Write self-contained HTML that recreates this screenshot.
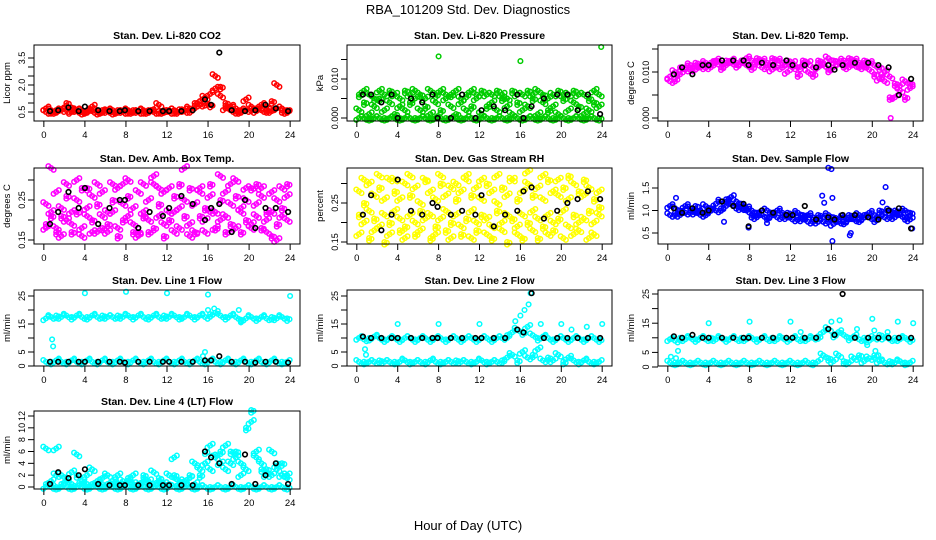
<!DOCTYPE html>
<html><head><meta charset="utf-8"><style>
body{margin:0;background:#fff}
svg{display:block;font-family:"Liberation Sans",Arial,sans-serif}
</style></head><body>
<svg id="chart" width="936" height="540" viewBox="0 0 936 540" xmlns="http://www.w3.org/2000/svg">
<rect width="936" height="540" fill="#fff"/>
<text x="468" y="14" text-anchor="middle" font-size="13">RBA_101209  Std. Dev. Diagnostics</text>
<text x="468" y="530" text-anchor="middle" font-size="13">Hour of Day (UTC)</text>
</svg>
<script>
const halfHours=[0.2,0.7,1.2,1.7,2.2,2.7,3.2,3.7,4.2,4.7,5.2,5.7,6.2,6.7,7.2,7.7,8.2,8.7,9.2,9.7,10.2,10.7,11.2,11.7,12.2,12.7,13.2,13.7,14.2,14.7,15.2,15.7,16.2,16.7,17.2,17.7,18.2,18.7,19.2,19.7,20.2,20.7,21.2,21.7,22.2,22.7,23.2,23.7];
const hours=[0.6,1.4,2.4,3.4,4.0,5.3,6.4,7.4,7.9,9.2,10.3,11.6,12.2,13.4,14.5,15.7,16.3,17.1,18.3,19.6,20.6,21.6,22.6,23.8];
const co2A=[0.7,0.6,0.6,0.65,0.6,0.75,0.6,0.55,0.6,0.8,0.6,0.6,0.55,0.6,0.6,0.55,0.6,0.6,0.55,0.6,0.6,0.65,0.9,0.6,0.6,0.6,0.65,0.6,0.7,1.0,1.1,1.3,0.9,1.8,1.4,1.0,0.8,0.7,0.6,1.2,0.8,0.7,0.9,0.8,1.1,0.7,0.7,0.6];
const co2B=[0.5,0.55,0.5,0.6,1.0,0.5,0.55,0.5,0.5,0.55,0.5,0.5,0.55,0.5,0.5,0.5,0.55,0.5,0.5,0.55,0.5,0.5,0.55,0.5,0.5,0.55,0.5,0.55,0.6,0.7,0.9,1.0,1.5,2.5,1.9,0.7,0.6,0.55,0.5,0.6,0.7,0.55,0.6,0.6,0.55,2.0,0.6,0.5];
const co2K=[0.55,0.6,0.75,0.55,0.8,0.6,0.55,0.55,0.6,0.55,0.55,0.55,0.55,0.55,0.6,1.2,0.9,3.8,0.6,0.55,0.6,0.9,0.7,0.55];
const presA=[0.006,0.007,0.006,0.005,0.007,0.006,0.007,0.006,0.005,0.007,0.006,0.007,0.006,0.005,0.007,0.006,0.007,0.006,0.006,0.007,0.005,0.006,0.007,0.006,0.007,0.006,0.006,0.007,0.006,0.005,0.007,0.006,0.006,0.007,0.006,0.007,0.006,0.005,0.006,0.007,0.006,0.006,0.007,0.006,0.006,0.005,0.007,0.006];
const presB=[0.002,0.004,0.001,0.003,0.005,0.002,0.004,0.001,0.003,0.002,0.004,0.005,0.002,0.003,0.001,0.004,0.002,0.005,0.003,0.001,0.004,0.002,0.003,0.005,0.001,0.003,0.004,0.002,0.005,0.003,0.001,0.004,0.002,0.003,0.005,0.001,0.004,0.002,0.003,0.001,0.005,0.002,0.004,0.003,0.001,0.002,0.004,0.003];
const presC=[0,0,0,0,0,0,0,0,0,0,0,0,0,0,0,0,0,0,0,0,0,0,0,0,0,0,0,0,0,0,0,0,0,0,0,0,0,0,0,0,0,0,0,0,0,0,0,0];
const presK=[0.006,0.006,0.004,0.006,0.0,0.005,0.004,0.006,0.0,0.0,0.006,0.0,0.002,0.003,0.002,0.006,0.0,0.003,0.005,0.006,0.006,0.002,0.006,0.001];
const presOutX=[8,16,23.9];
const presOutY=[0.0158,0.0146,0.0182];
const tempA=[0.009,0.010,0.011,0.011,0.0115,0.012,0.0115,0.012,0.012,0.0125,0.012,0.0125,0.0125,0.012,0.0125,0.013,0.0125,0.013,0.0125,0.012,0.013,0.0125,0.012,0.0125,0.012,0.011,0.0125,0.012,0.011,0.0125,0.012,0.013,0.0125,0.012,0.0125,0.013,0.0125,0.012,0.0125,0.012,0.0115,0.011,0.010,0.009,0.0075,0.007,0.008,0.0075];
const tempB=[0.008,0.0085,0.0095,0.0105,0.011,0.0105,0.011,0.0115,0.011,0.012,0.011,0.0115,0.012,0.0115,0.012,0.0115,0.011,0.012,0.011,0.0115,0.0105,0.011,0.0115,0.010,0.011,0.0095,0.0115,0.010,0.0095,0.011,0.0115,0.0105,0.011,0.012,0.0115,0.011,0.0115,0.0115,0.011,0.0105,0.0095,0.0085,0.008,0.0045,0.0045,0.006,0.0045,0.0065];
const tempK=[0.0095,0.011,0.0095,0.0115,0.0115,0.0125,0.0125,0.0125,0.0115,0.012,0.0115,0.0125,0.0115,0.0115,0.011,0.0115,0.0105,0.0115,0.012,0.012,0.0115,0.011,0.005,0.0085];
const tempOutX=[21.8];
const tempOutY=[0.0];
const ambA=[0.24,0.21,0.27,0.23,0.26,0.22,0.25,0.28,0.23,0.26,0.24,0.27,0.22,0.25,0.28,0.24,0.26,0.23,0.27,0.21,0.25,0.29,0.24,0.27,0.22,0.26,0.23,0.25,0.28,0.24,0.27,0.23,0.26,0.22,0.25,0.27,0.24,0.26,0.23,0.25,0.28,0.24,0.26,0.22,0.27,0.25,0.23,0.26];
const ambB=[0.19,0.22,0.18,0.21,0.20,0.19,0.22,0.18,0.21,0.20,0.17,0.21,0.19,0.22,0.18,0.20,0.21,0.19,0.17,0.22,0.20,0.18,0.21,0.19,0.20,0.22,0.18,0.21,0.19,0.17,0.21,0.20,0.22,0.18,0.20,0.21,0.19,0.18,0.22,0.20,0.19,0.21,0.18,0.20,0.22,0.19,0.21,0.20];
const ambC=[0.18,0.33,0.17,0.16,0.29,0.17,0.30,0.16,0.28,0.17,0.29,0.18,0.17,0.29,0.16,0.29,0.30,0.17,0.16,0.29,0.17,0.31,0.28,0.16,0.28,0.17,0.29,0.33,0.16,0.17,0.28,0.17,0.29,0.18,0.31,0.17,0.29,0.30,0.17,0.28,0.18,0.29,0.28,0.17,0.16,0.15,0.28,0.29];
const ambK=[0.19,0.22,0.27,0.23,0.28,0.19,0.23,0.25,0.25,0.18,0.22,0.21,0.23,0.26,0.24,0.20,0.23,0.24,0.17,0.25,0.18,0.23,0.23,0.22];
const rhA=[0.28,0.25,0.30,0.27,0.29,0.26,0.31,0.28,0.26,0.30,0.27,0.29,0.25,0.31,0.28,0.26,0.30,0.27,0.29,0.26,0.28,0.31,0.27,0.29,0.26,0.30,0.28,0.25,0.29,0.27,0.31,0.26,0.28,0.30,0.27,0.29,0.26,0.31,0.28,0.27,0.29,0.26,0.30,0.28,0.27,0.29,0.26,0.28];
const rhB=[0.22,0.20,0.23,0.21,0.19,0.22,0.20,0.23,0.21,0.19,0.22,0.20,0.23,0.21,0.22,0.19,0.21,0.23,0.20,0.22,0.19,0.21,0.23,0.20,0.22,0.21,0.19,0.23,0.20,0.22,0.21,0.19,0.22,0.20,0.23,0.21,0.19,0.22,0.20,0.21,0.23,0.19,0.22,0.20,0.21,0.23,0.20,0.22];
const rhC=[0.17,0.31,0.16,0.18,0.32,0.15,0.17,0.31,0.18,0.16,0.32,0.17,0.18,0.31,0.16,0.17,0.32,0.18,0.16,0.30,0.17,0.32,0.16,0.18,0.31,0.17,0.16,0.32,0.18,0.15,0.31,0.17,0.16,0.33,0.18,0.16,0.32,0.17,0.18,0.31,0.16,0.32,0.17,0.18,0.31,0.16,0.17,0.24];
const rhK=[0.22,0.27,0.18,0.22,0.31,0.23,0.22,0.25,0.24,0.22,0.23,0.22,0.27,0.19,0.22,0.23,0.28,0.29,0.21,0.23,0.25,0.26,0.28,0.26];
const flowA=[1.1,1.05,1.0,1.1,1.05,1.1,1.0,1.1,1.05,1.15,1.2,1.25,1.3,1.2,1.15,1.05,1.0,0.95,1.0,1.0,0.95,1.0,0.95,0.95,0.9,0.95,0.9,0.9,0.85,0.9,0.85,0.9,0.85,0.8,0.85,0.9,0.85,0.9,0.9,0.95,0.9,1.0,0.95,1.0,1.0,0.95,1.0,0.95];
const flowB=[0.9,0.95,0.9,0.95,1.0,0.95,0.9,0.95,1.0,1.0,1.05,1.1,1.15,1.1,1.05,1.0,0.9,0.85,0.9,0.85,0.9,0.85,0.9,0.85,0.8,0.85,0.8,0.75,0.8,0.75,0.75,0.8,0.7,0.75,0.75,0.8,0.8,0.8,0.85,0.85,0.8,0.85,0.85,0.9,0.85,0.9,0.85,0.8];
const flowK=[1.05,0.95,1.05,0.95,1.0,1.2,1.1,1.15,0.65,1.0,0.95,0.9,0.9,1.1,0.8,0.85,0.8,0.9,0.9,0.85,0.8,1.0,1.05,0.6];
const flowOutX=[0.8,5.5,7.9,9.7,15.1,15.7,16.0,16.1,16.1,17.8,17.9,21.3,21.0,15.3,23.9];
const flowOutY=[1.28,0.75,0.62,0.72,1.33,1.95,1.92,0.32,1.28,0.45,0.5,1.52,1.18,1.17,0.6];
const l1A=[17,17.5,18,17.5,18,17.5,18,17.5,17.5,18,17.5,18,17.5,17.5,18,17.5,18,17.5,18,17.5,17.5,18,17.5,18,17.5,18,17.5,17.5,18,17.5,18,17.5,18.5,19,18,17.5,18,17.5,16.5,17,17.5,17,17.5,17,17.5,17,17.5,17];
const l1B=[1.5,1.5,2,1.5,1.5,2,1.5,1.5,2,1.5,1.5,2,1.5,1.5,2,1.5,1.5,2,1.5,1.5,2,1.5,1.5,2,1.5,1.5,2,1.5,1.5,2,1.5,1.5,2,1.5,1.5,2,1.5,1.5,2,1.5,1.5,2,1.5,1.5,2,1.5,1.5,1.5];
const l1K=[1.5,1.5,1.5,1.5,1.5,1.5,1.5,1.5,1.2,1.5,1.5,1.5,1.5,1.5,1.5,2,2,3.5,1.5,1.5,1.2,1.5,1.5,1.2];
const l1OutX=[0.8,0.9,4,8,12,16,24,15.5,15.7,16,16.6,19,19.2];
const l1OutY=[9.5,7,26,26.5,26,25.5,25,3.5,5,20,20.5,20,16];
const l2A=[10,9.5,10,10.5,10,9.5,10,10,9.5,10,10,9.5,10,10,9.5,10,10,9.5,10,10,9.5,10,10,9.5,10,10,9.5,10,10,11,12,13,12,14,11,10,10.5,10,9.5,10,10,9.5,10,10,9.5,10,10,9.5];
const l2B=[1.5,1.5,1.5,1.5,2,1.5,1.5,1.5,1.5,2,1.5,1.5,1.5,1.5,2,1.5,1.5,1.5,1.5,2,1.5,1.5,1.5,1.5,2,1.5,1.5,1.5,2,3,4,2,5,3,4,6,2,3,2,4,1.5,3,2,1.5,2,1.5,1.5,1.5];
const l2K=[10.5,10,10,10,10,10,10,10,10,10,10,10,10,10,10,13,12,26,10,10,10,10,10,10];
const l2OutX=[0.8,0.9,4,8,12,15.5,16,16.4,16.8,17,18,20,21,24,22.5];
const l2OutY=[6,4,15,15,15,16,18,20,22,26,15,15,13,15,14];
const l3A=[9.5,9,10,9.5,10,9.5,10,9.5,10,9.5,10,9.5,10,9.5,10,9.5,10,9.5,10,9.5,10,9.5,10,9.5,10,9.5,10,9.5,10,10.5,12,13,11,12,11,10,10.5,9.5,10,9,10,11,10,9.5,10,9.5,10,9.5];
const l3B=[1.5,1.5,1.5,1.5,1.5,1.5,1.5,1.5,1.5,1.5,1.5,1.5,1.5,1.5,1.5,1.5,1.5,1.5,1.5,1.5,1.5,1.5,1.5,1.5,1.5,1.5,1.5,1.5,1.5,2,4,3,2,4,2,1.5,3,4,2,3,4,2,1.5,2,1.5,2,1.5,1.5];
const l3K=[10.5,10,11,10,10,10,10,10,10,10,10,10,10,10,10,13,11,25,10,10,10,10,10,10];
const l3OutX=[0.3,0.8,1,4,8,12,13,16,16.8,18.5,19.5,20,20.2,20.6,20.3,21.5,22.5,24];
const l3OutY=[3.5,3,5.5,15,15.5,15.5,12,15.5,16,13,7.5,16.5,12.5,4,5.5,12,15.5,15];
const l4A=[6.5,0.5,6.5,2,1.5,2.5,5.5,1,2,3,0.5,1.5,2,0.5,2,1,1.5,2,0.5,2,1,2.5,1.5,0.5,2,2,0.5,1,2,0.5,3,6,7,5,6,7,4,6,2,3,13,6,4,3,2,3,4,2];
const l4B=[0.5,1,2,0.5,1,0.5,2,1,0.5,0.5,1,0.5,0.5,1,0.5,0.5,1,0.5,0.5,1,0.5,0.5,1,0.5,0.5,5,1,0.5,1.5,4,2,4,3,5.5,4,3,6,5,4,10,11,5,3,2,6,4,2,1.5];
const l4C=[0,0,0,0,0,0,0,0,0,0,0,0,0,0,0,0,0,0,0,0,0,0,0,0,0,0,0,0,0,0,0,0,0,0,0,0,0,0,0,0,0,0,0,0,0,0,0,0];
const l4K=[0.5,2.5,1.5,2,3,0.5,0.3,0.3,0.3,0.3,0.3,0.3,0.3,0.3,0.3,6,5,4,0.5,5.5,0.5,2,4,0.5];
const xTicks=[0,4,8,12,16,20,24];
const xTickLabels=["0","4","8","12","16","20","24"];

const panels=[
 {id:"co2",title:"Stan. Dev. Li-820 CO2",ylab:"Licor ppm",col:0,row:0,color:"#ff0000",cal:[0.5,112,3.5,58],ticks:[0.5,1,1.5,2,2.5,3,3.5],labels:{"0.5":"0.5","2":"2.0","3.5":"3.5"},series:[co2A,co2B],k:co2K},
 {id:"pressure",title:"Stan. Dev. Li-820 Pressure",ylab:"kPa",col:1,row:0,color:"#00cc00",cal:[0,118,0.01,79],ticks:[0,0.005,0.01,0.015],labels:{"0":"0.000","0.01":"0.010"},series:[presC,presB,presA],k:presK,ox:presOutX,oy:presOutY},
 {id:"temp",title:"Stan. Dev. Li-820 Temp.",ylab:"degrees C",col:2,row:0,color:"#ff00ff",cal:[0,118,0.01,72],ticks:[0,0.005,0.01,0.015],labels:{"0":"0.000","0.01":"0.010"},series:[tempA,tempB],k:tempK,ox:tempOutX,oy:tempOutY},
 {id:"amb",title:"Stan. Dev. Amb. Box Temp.",ylab:"degrees C",col:0,row:1,color:"#ff00ff",cal:[0.15,240,0.25,200],ticks:[0.15,0.2,0.25,0.3],labels:{"0.15":"0.15","0.25":"0.25"},series:[ambC,ambA,ambB],k:ambK},
 {id:"rh",title:"Stan. Dev. Gas Stream RH",ylab:"percent",col:1,row:1,color:"#ffff00",cal:[0.15,242,0.25,203],ticks:[0.15,0.2,0.25,0.3],labels:{"0.15":"0.15","0.25":"0.25"},series:[rhC,rhA,rhB],k:rhK},
 {id:"sample",title:"Stan. Dev. Sample Flow",ylab:"ml/min",col:2,row:1,color:"#0000ff",cal:[0.5,233,1.5,188],ticks:[0.5,1,1.5],labels:{"0.5":"0.5","1":"1.0","1.5":"1.5"},series:[flowA,flowB],k:flowK,ox:flowOutX,oy:flowOutY},
 {id:"line1",title:"Stan. Dev. Line 1 Flow",ylab:"ml/min",col:0,row:2,color:"#00ffff",cal:[0,366,25,296],ticks:[0,5,10,15,20,25],labels:{"0":"0","5":"5","15":"15","25":"25"},series:[l1A,l1B],k:l1K,ox:l1OutX,oy:l1OutY},
 {id:"line2",title:"Stan. Dev. Line 2 Flow",ylab:"ml/min",col:1,row:2,color:"#00ffff",cal:[0,366,25,296],ticks:[0,5,10,15,20,25],labels:{"0":"0","5":"5","15":"15","25":"25"},series:[l2A,l2B],k:l2K,ox:l2OutX,oy:l2OutY},
 {id:"line3",title:"Stan. Dev. Line 3 Flow",ylab:"ml/min",col:2,row:2,color:"#00ffff",cal:[0,367,25,294],ticks:[0,5,10,15,20,25],labels:{"0":"0","5":"5","15":"15","25":"25"},series:[l3A,l3B],k:l3K,ox:l3OutX,oy:l3OutY},
 {id:"line4",title:"Stan. Dev. Line 4 (LT) Flow",ylab:"ml/min",col:0,row:3,color:"#00ffff",cal:[0,487,12,416],ticks:[0,2,4,6,8,10,12],labels:{"0":"0","2":"2","4":"4","6":"6","8":"8","10":"10","12":"12"},series:[l4C,l4A,l4B],k:l4K}
];
const colL=[34,347,658], colR=[300,612,923];
const rowT=[45,168,290,411], rowB=[121,244,366,489];
const clusterPatterns=[[[0,0],[-2.6,1.8],[2.6,-1.8]],[[0,0],[-2.6,-1.8],[2.6,1.8]],[[0,0],[0,2.6],[2.4,0.8]]];
const NS="http://www.w3.org/2000/svg";
const svg=document.getElementById("chart");
function mk(tag,attrs,parent){const e=document.createElementNS(NS,tag);for(const k in attrs)e.setAttribute(k,attrs[k]);(parent||svg).appendChild(e);return e;}
panels.forEach(p=>{
 const L=colL[p.col],R=colR[p.col],T=rowT[p.row],B=rowB[p.row];
 const g=mk("g",{});
 
 
 const xs=h=>L+(h+0.96)/25.92*(R-L);
 const ys=v=>p.cal[1]+(v-p.cal[0])*(p.cal[3]-p.cal[1])/(p.cal[2]-p.cal[0]);
 const t=mk("text",{x:(L+R)/2,y:T-6,"text-anchor":"middle","font-size":"10.5","font-weight":"bold"},g);
 t.textContent=p.title;
 
 
 const yl=mk("text",{transform:`translate(${L-24},${(T+B)/2}) rotate(-90)`,"text-anchor":"middle","font-size":"9.5"},g);
 yl.textContent=p.ylab;
 
 
 const ca=mk("g",{fill:"none",stroke:p.color,"stroke-width":"1.5"},g);
 
 
 p.series.forEach((arr,si)=>arr.forEach((v,i)=>{
  const cx=xs(halfHours[i]),cy=ys(v);
  clusterPatterns[(i+si)%3].forEach(o=>{
   const c=mk("circle",{cx:(cx+o[0]).toFixed(1),cy:(cy+o[1]).toFixed(1),r:2.3},ca);
   
   
  });
 }));
 if(p.ox)p.ox.forEach((h,i)=>{
  const c=mk("circle",{cx:xs(h).toFixed(1),cy:ys(p.oy[i]).toFixed(1),r:2.3},ca);
  
  
 });
 const ka=mk("g",{fill:"none",stroke:"#000","stroke-width":"1.6"},g);
 
 
 p.k.forEach((v,i)=>{
  const c=mk("circle",{cx:xs(hours[i]).toFixed(1),cy:ys(v).toFixed(1),r:2.3},ka);
  
  
 });
 const box=mk("rect",{x:L,y:T,width:R-L,height:B-T,fill:"none",stroke:"#000","stroke-width":"1"},g);
 
 
 xTicks.forEach((h,i)=>{
  mk("line",{x1:xs(h),x2:xs(h),y1:B,y2:B+6,stroke:"#000"},g);
  const tl=mk("text",{x:xs(h),y:B+17,"text-anchor":"middle","font-size":"9.5"},g);
  tl.textContent=xTickLabels[i];
  
  
 });
 p.ticks.forEach(v=>{
  mk("line",{x1:L-6,x2:L,y1:ys(v),y2:ys(v),stroke:"#000"},g);
  const lab=p.labels[String(v)];
  if(lab){
   const tl=mk("text",{transform:`translate(${L-9},${ys(v)}) rotate(-90)`,"text-anchor":"middle","font-size":"9"},g);
   tl.textContent=lab;
   
   
  }
 });
});
</script>
</body></html>
